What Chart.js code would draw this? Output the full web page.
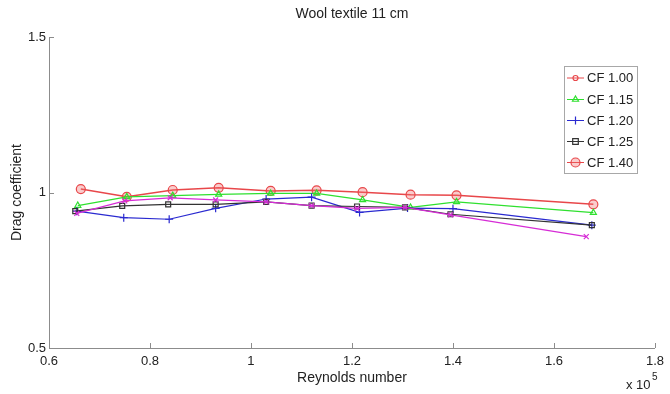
<!DOCTYPE html>
<html>
<head>
<meta charset="utf-8">
<script src="https://cdn.jsdelivr.net/npm/chart.js@4/dist/chart.umd.min.js"></script>
<style>
  html, body { margin: 0; padding: 0; background: #fff; }
  #wrap { width: 670px; height: 394px; }
</style>
</head>
<body>
<div id="wrap"><canvas id="c" width="670" height="394"></canvas></div>
<script>
// Drag coefficient vs Reynolds number (x 10^5), wool textile sample 11 cm
const chartTitle = 'Wool textile 11 cm';
const legendNames = ['CF 1.00', 'CF 1.15', 'CF 1.20', 'CF 1.25', 'CF 1.40'];

const reCF100 = [];
const cdCF100 = [];

const reCF115 = [0.657, 0.754, 0.845, 0.936, 1.039, 1.130, 1.221, 1.316, 1.407, 1.678];
const cdCF115 = [0.958, 0.986, 0.990, 0.994, 0.997, 0.997, 0.976, 0.952, 0.970, 0.935];

const reCF120 = [0.655, 0.748, 0.838, 0.930, 1.030, 1.120, 1.215, 1.310, 1.400, 1.675];
const cdCF120 = [0.940, 0.919, 0.914, 0.949, 0.979, 0.985, 0.936, 0.950, 0.948, 0.895];

const reCF125 = [0.652, 0.745, 0.836, 0.930, 1.030, 1.120, 1.210, 1.305, 1.395, 1.675];
const cdCF125 = [0.940, 0.957, 0.962, 0.962, 0.970, 0.958, 0.955, 0.952, 0.930, 0.895];

const reCF140 = [0.663, 0.754, 0.845, 0.936, 1.039, 1.130, 1.221, 1.316, 1.407, 1.678];
const cdCF140 = [1.011, 0.986, 1.008, 1.015, 1.005, 1.007, 1.001, 0.993, 0.991, 0.962];

// extra run plotted without a legend entry
const reExtra = [0.655, 0.750, 0.840, 0.930, 1.030, 1.120, 1.210, 1.305, 1.395, 1.664];
const cdExtra = [0.933, 0.973, 0.983, 0.976, 0.970, 0.958, 0.949, 0.952, 0.928, 0.858];

const xTickValues = [0.6, 0.8, 1.0, 1.2, 1.4, 1.6, 1.8];
const xTickLabels = ['0.6', '0.8', '1', '1.2', '1.4', '1.6', '1.8'];
const yTickValues = [0.5, 1.0, 1.5];
const yTickLabels = ['0.5', '1', '1.5'];

const pairs = (xs, ys) => xs.map((x, i) => ({ x: x, y: ys[i] }));

const FONT = '"Liberation Sans", Arial, sans-serif';

const styles = {
  'CF 1.00': { color: '#e8474a', fill: 'rgba(0,0,0,0)', style: 'circle', r: 2.5, w: 1.2 },
  'CF 1.15': { color: '#2fe02f', fill: 'rgba(0,0,0,0)', style: 'triangle', r: 3.5, w: 1.3 },
  'CF 1.20': { color: '#2a2ad0', fill: 'rgba(0,0,0,0)', style: 'cross', r: 4, w: 1.2 },
  'CF 1.25': { color: '#333333', fill: 'rgba(0,0,0,0)', style: 'rect', r: 3.5, w: 1.2 },
  'CF 1.40': { color: '#e8474a', fill: 'rgba(240,110,110,0.35)', style: 'circle', r: 4.5, w: 1.5 },
  'extra':   { color: '#d62cd6', fill: 'rgba(0,0,0,0)', style: 'crossRot', r: 3.5, w: 1.2 }
};

function makeSet(label, key, xs, ys, legend) {
  const s = styles[key];
  return {
    label: label,
    data: pairs(xs, ys),
    borderColor: s.color,
    backgroundColor: s.fill,
    borderWidth: s.w,
    pointStyle: s.style,
    pointRadius: s.r,
    pointBorderColor: s.color,
    pointBackgroundColor: s.fill,
    pointBorderWidth: 1.2,
    tension: 0,
    showLine: true,
    inLegend: legend,
    styleKey: key
  };
}

const datasets = [
  makeSet('extra', 'extra', reExtra, cdExtra, false),
  makeSet('CF 1.00', 'CF 1.00', reCF100, cdCF100, true),
  makeSet('CF 1.25', 'CF 1.25', reCF125, cdCF125, true),
  makeSet('CF 1.20', 'CF 1.20', reCF120, cdCF120, true),
  makeSet('CF 1.15', 'CF 1.15', reCF115, cdCF115, true),
  makeSet('CF 1.40', 'CF 1.40', reCF140, cdCF140, true)
];

function drawMarker(ctx, key, x, y) {
  const s = styles[key];
  ctx.save();
  ctx.strokeStyle = s.color;
  ctx.fillStyle = s.fill;
  ctx.lineWidth = 1.2;
  ctx.beginPath();
  const r = s.r;
  if (s.style === 'circle') {
    ctx.arc(x, y, r, 0, Math.PI * 2);
    ctx.fill(); ctx.stroke();
  } else if (s.style === 'triangle') {
    ctx.moveTo(x, y - r);
    ctx.lineTo(x + r * 0.87, y + r * 0.5);
    ctx.lineTo(x - r * 0.87, y + r * 0.5);
    ctx.closePath(); ctx.stroke();
  } else if (s.style === 'cross') {
    ctx.moveTo(x - r, y); ctx.lineTo(x + r, y);
    ctx.moveTo(x, y - r); ctx.lineTo(x, y + r);
    ctx.stroke();
  } else if (s.style === 'rect') {
    ctx.rect(x - r * 0.8, y - r * 0.8, r * 1.6, r * 1.6);
    ctx.stroke();
  }
  ctx.restore();
}

// Inward tick marks, title, exponent note and boxed legend
const decorations = {
  id: 'decorations',
  afterDraw(chart) {
    const ctx = chart.ctx;
    const xs = chart.scales.x, ys = chart.scales.y;
    const area = chart.chartArea;
    ctx.save();
    ctx.strokeStyle = '#8c8c8c';
    ctx.lineWidth = 1;
    ctx.beginPath();
    xTickValues.forEach(v => {
      const px = Math.round(xs.getPixelForValue(v)) + 0.5;
      ctx.moveTo(px, area.bottom);
      ctx.lineTo(px, area.bottom - 5);
    });
    yTickValues.forEach(v => {
      const py = Math.round(ys.getPixelForValue(v)) + 0.5;
      ctx.moveTo(area.left, py);
      ctx.lineTo(area.left + 5, py);
    });
    ctx.stroke();

    // title
    ctx.fillStyle = '#222';
    ctx.font = '14px ' + FONT;
    ctx.textAlign = 'center';
    ctx.textBaseline = 'middle';
    ctx.fillText(chartTitle, (area.left + area.right) / 2, 14);

    // x 10^5
    ctx.font = '13px ' + FONT;
    ctx.textAlign = 'left';
    ctx.textBaseline = 'alphabetic';
    ctx.fillText('x 10', 626, 389);
    ctx.font = '10px ' + FONT;
    ctx.fillText('5', 652, 380);

    // legend box
    const bx = 564.5, by = 66.5, bw = 73, bh = 107;
    ctx.fillStyle = '#fff';
    ctx.fillRect(bx, by, bw, bh);
    ctx.strokeStyle = '#a8a8a8';
    ctx.strokeRect(bx, by, bw, bh);
    const rowY = [78, 99.5, 120.5, 141.5, 162.5];
    legendNames.forEach((name, i) => {
      const s = styles[name];
      const y = rowY[i];
      ctx.strokeStyle = s.color;
      ctx.lineWidth = 1;
      ctx.beginPath();
      ctx.moveTo(567, y); ctx.lineTo(584, y);
      ctx.stroke();
      drawMarker(ctx, name, 575.5, y);
      ctx.fillStyle = '#222';
      ctx.font = '13px ' + FONT;
      ctx.textAlign = 'left';
      ctx.textBaseline = 'middle';
      ctx.fillText(name, 587, y + 0.5);
    });
    ctx.restore();
  }
};

new Chart(document.getElementById('c'), {
  type: 'scatter',
  data: { datasets: datasets },
  plugins: [decorations],
  options: {
    responsive: false,
    animation: false,
    devicePixelRatio: 1,
    layout: { padding: { top: 37, right: 14, left: 0, bottom: 0 } },
    plugins: {
      legend: { display: false },
      title: { display: false },
      tooltip: { enabled: false }
    },
    scales: {
      x: {
        type: 'linear',
        min: 0.6,
        max: 1.8,
        afterFit(scale) { scale.height = 46; },
        afterBuildTicks(scale) { scale.ticks = xTickValues.map(v => ({ value: v })); },
        grid: { display: false, drawTicks: false },
        border: { display: true, color: '#8c8c8c', width: 1 },
        ticks: {
          padding: 6,
          color: '#222',
          font: { family: FONT, size: 13 },
          maxRotation: 0,
          autoSkip: false,
          callback: (v, i) => xTickLabels[i]
        },
        title: {
          display: true,
          text: 'Reynolds number',
          color: '#222',
          font: { family: FONT, size: 14 },
          padding: { top: 0, bottom: 7 }
        }
      },
      y: {
        type: 'linear',
        min: 0.5,
        max: 1.5,
        afterFit(scale) { scale.width = 49; },
        afterBuildTicks(scale) { scale.ticks = yTickValues.map(v => ({ value: v })); },
        grid: { display: false, drawTicks: false },
        border: { display: true, color: '#8c8c8c', width: 1 },
        ticks: {
          padding: 3,
          color: '#222',
          font: { family: FONT, size: 13 },
          autoSkip: false,
          callback: (v, i) => yTickLabels[i]
        },
        title: {
          display: true,
          text: 'Drag coefficient',
          color: '#222',
          font: { family: FONT, size: 14 },
          padding: { top: 9, bottom: 0 }
        }
      }
    }
  }
});
</script>
</body>
</html>
